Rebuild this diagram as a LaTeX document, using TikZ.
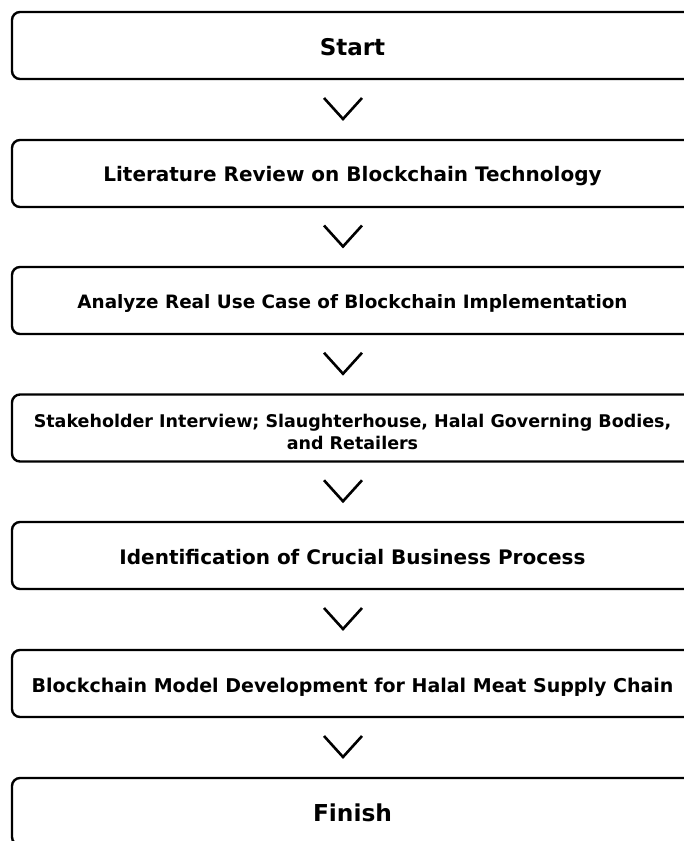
\documentclass[tikz,border=0pt]{standalone}
\usepackage{fontspec}
\setmainfont{DejaVu Sans}
\usetikzlibrary{calc}
\begin{document}
\begin{tikzpicture}[x=1pt,y=-1pt,
  stepbox/.style={draw=black, line width=2.4pt, rounded corners=8pt,
    minimum width=681pt, minimum height=67pt, inner sep=0pt},
  steplabel/.style={inner sep=0pt, align=center},
  chev/.style={draw=black, line width=2.6pt, line join=miter}]
\useasboundingbox (0,0) rectangle (684,841);
\clip (0,0) rectangle (684,841);

% process step frames
\node[stepbox] (b1) at (352.5,45.5) {};
\node[stepbox] (b2) at (352.5,173.5) {};
\node[stepbox] (b3) at (352.5,300.5) {};
\node[stepbox] (b4) at (352.5,428) {};
\node[stepbox] (b5) at (352.5,555.5) {};
\node[stepbox] (b6) at (352.5,683.5) {};
\node[stepbox] (b7) at (352.5,811.5) {};

% step texts
\node[steplabel, font=\bfseries\fontsize{23}{28}\selectfont] (t1) at ($(b1.center)+(0,2)$) {Start};
\node[steplabel, font=\bfseries\fontsize{20}{25}\selectfont] (t2) at ($(b2.center)+(0,3)$) {Literature Review on Blockchain Technology};
\node[steplabel, font=\bfseries\fontsize{18.4}{23}\selectfont] (t3) at ($(b3.center)+(0,2.5)$) {Analyze Real Use Case of Blockchain Implementation};
\node[steplabel, font=\bfseries\fontsize{17.5}{22}\selectfont] (t4) at ($(b4.center)+(0,3.5)$) {Stakeholder Interview; Slaughterhouse, Halal Governing Bodies,\\ and Retailers};
\node[steplabel, font=\bfseries\fontsize{20}{25}\selectfont] (t5) at ($(b5.center)+(0,2)$) {Identification of Crucial Business Process};
\node[steplabel, font=\bfseries\fontsize{19}{24}\selectfont] (t6) at ($(b6.center)+(0,3.5)$) {Blockchain Model Development for Halal Meat Supply Chain};
\node[steplabel, font=\bfseries\fontsize{23.3}{28}\selectfont] (t7) at ($(b7.center)+(0,1.5)$) {Finish};

% chevrons between consecutive steps
\foreach \a/\b in {b1/b2, b2/b3, b3/b4, b4/b5, b5/b6, b6/b7}{
  \coordinate (m) at ($(\a.south)!0.5!(\b.north)$);
  \draw[chev] ($(m)+(-28.5,-11.5)$) -- ($(m)+(-9.5,9.5)$) -- ($(m)+(9.5,-11.5)$);
}
\end{tikzpicture}
\end{document}
